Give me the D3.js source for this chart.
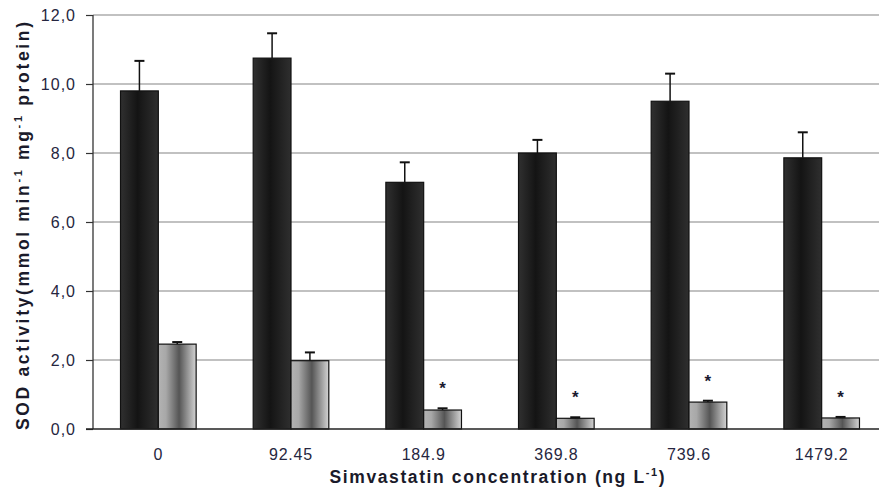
<!DOCTYPE html>
<html>
<head>
<meta charset="utf-8">
<script src="https://cdn.jsdelivr.net/npm/d3@7"></script>
<style>
  html, body { margin: 0; padding: 0; background: #fff; }
  svg { display: block; }
</style>
</head>
<body>
<svg id="chart" width="879" height="498"></svg>
<script>
// Simvastatin concentrations (ng L-1)
const categories = ["0", "92.45", "184.9", "369.8", "739.6", "1479.2"];
// SOD activity, dark series
const darkValues = [9.8, 10.75, 7.15, 8.0, 9.5, 7.86];
const darkErrors = [0.87, 0.72, 0.58, 0.38, 0.8, 0.74];
// SOD activity, light series
const lightValues = [2.46, 1.98, 0.55, 0.31, 0.78, 0.32];
const lightErrors = [0.06, 0.24, 0.05, 0.03, 0.04, 0.03];
// significance markers on the light series
const significant = [false, false, true, true, true, true];
// y-axis ticks
const yTicks = [0, 2, 4, 6, 8, 10, 12];

const svg = d3.select("#chart");
const W = 879;
const plotLeft = 93, plotTop = 15, plotBottom = 429;

const x0 = d3.scaleBand()
  .domain(categories)
  .range([92, 888])
  .paddingInner(0.43)
  .paddingOuter(0.215);

const series = ["dark", "light"];
const x1 = d3.scaleBand()
  .domain(series)
  .range([0, x0.bandwidth()]);

const y = d3.scaleLinear().domain([0, 12]).range([plotBottom, plotTop]);

// gradients
const defs = svg.append("defs");
const gDark = defs.append("linearGradient").attr("id", "gDark")
  .attr("x1", "0%").attr("x2", "100%").attr("y1", "0%").attr("y2", "0%");
[["0%", "#303030"], ["45%", "#141414"], ["100%", "#2f2f2f"]].forEach(([o, c]) =>
  gDark.append("stop").attr("offset", o).attr("stop-color", c));
const gLight = defs.append("linearGradient").attr("id", "gLight")
  .attr("x1", "0%").attr("x2", "100%").attr("y1", "0%").attr("y2", "0%");
[["0%", "#b3b3b3"], ["20%", "#a8a8a8"], ["55%", "#555555"], ["100%", "#d4d4d4"]].forEach(([o, c]) =>
  gLight.append("stop").attr("offset", o).attr("stop-color", c));

// horizontal gridlines
svg.append("g")
  .selectAll("line")
  .data(yTicks.filter(d => d > 0))
  .join("line")
  .attr("x1", plotLeft).attr("x2", W)
  .attr("y1", d => y(d)).attr("y2", d => y(d))
  .attr("stroke", "#adadad")
  .attr("stroke-width", 1.6);

// y axis
const yAxis = d3.axisLeft(y)
  .tickValues(yTicks)
  .tickSize(7)
  .tickPadding(10)
  .tickFormat(d => d3.format(".1f")(d).replace(".", ","));
const ya = svg.append("g")
  .attr("transform", `translate(${plotLeft},0)`)
  .call(yAxis);
ya.select(".domain").attr("stroke", "#222").attr("stroke-width", 1.2).attr("d", `M0,${plotTop}V${plotBottom}`);
ya.selectAll(".tick line").attr("stroke", "#333").attr("stroke-width", 1.2);
ya.selectAll(".tick text")
  .attr("font-family", "Liberation Sans, Arial, sans-serif")
  .attr("font-size", 16)
  .attr("letter-spacing", 1)
  .attr("fill", "#262640");

const rows = categories.map((c, i) => ({
  cat: c,
  bars: [
    { s: "dark", v: darkValues[i], e: darkErrors[i] },
    { s: "light", v: lightValues[i], e: lightErrors[i] }
  ],
  sig: significant[i]
}));

const groups = svg.append("g")
  .selectAll("g")
  .data(rows)
  .join("g")
  .attr("transform", d => `translate(${x0(d.cat)},0)`);

// error bars (upper only), drawn under the bars so the stem starts at the bar top
groups.selectAll("g.err")
  .data(d => d.bars)
  .join("g")
  .attr("class", "err")
  .each(function(b) {
    const g = d3.select(this);
    const cx = x1(b.s) + x1.bandwidth() / 2;
    g.append("line")
      .attr("x1", cx).attr("x2", cx)
      .attr("y1", y(b.v)).attr("y2", y(b.v + b.e))
      .attr("stroke", "#111").attr("stroke-width", 1.5);
    g.append("line")
      .attr("x1", cx - 5).attr("x2", cx + 5)
      .attr("y1", y(b.v + b.e)).attr("y2", y(b.v + b.e))
      .attr("stroke", "#111").attr("stroke-width", 2);
  });

groups.selectAll("rect")
  .data(d => d.bars)
  .join("rect")
  .attr("x", b => x1(b.s))
  .attr("width", x1.bandwidth())
  .attr("y", b => y(b.v))
  .attr("height", b => y(0) - y(b.v))
  .attr("fill", b => b.s === "dark" ? "url(#gDark)" : "url(#gLight)")
  .attr("stroke", "#111")
  .attr("stroke-width", 1.2);

// significance asterisks above the light bars
groups.filter(d => d.sig)
  .append("text")
  .attr("x", d => x1("light") + x1.bandwidth() / 2)
  .attr("y", d => y(d.bars[1].v + d.bars[1].e) - 14)
  .attr("text-anchor", "middle")
  .attr("font-family", "Liberation Sans, Arial, sans-serif")
  .attr("font-weight", "bold")
  .attr("font-size", 17)
  .attr("fill", "#1a1a30")
  .text("*");

// x axis line
svg.append("line")
  .attr("x1", 86).attr("x2", W)
  .attr("y1", plotBottom).attr("y2", plotBottom)
  .attr("stroke", "#222").attr("stroke-width", 1.4);

// category labels
svg.append("g")
  .selectAll("text")
  .data(categories)
  .join("text")
  .attr("x", d => x0(d) + x0.bandwidth() / 2)
  .attr("y", 460)
  .attr("text-anchor", "middle")
  .attr("font-family", "Liberation Sans, Arial, sans-serif")
  .attr("font-size", 16)
  .attr("letter-spacing", 0.8)
  .attr("fill", "#262640")
  .text(d => d);

// axis titles
const xt = svg.append("text")
  .attr("x", 497)
  .attr("y", 483)
  .attr("text-anchor", "middle")
  .attr("font-family", "Liberation Sans, Arial, sans-serif")
  .attr("font-weight", "bold")
  .attr("font-size", 17.5)
  .attr("fill", "#1a1a2a")
  .attr("textLength", 335)
  .attr("lengthAdjust", "spacing");
xt.append("tspan").text("Simvastatin concentration (ng L");
xt.append("tspan").attr("dy", -7).attr("font-size", 11).text("-1");
xt.append("tspan").attr("dy", 7).text(")");

const yt = svg.append("text")
  .attr("transform", "translate(29,226) rotate(-90)")
  .attr("text-anchor", "middle")
  .attr("font-family", "Liberation Sans, Arial, sans-serif")
  .attr("font-weight", "bold")
  .attr("font-size", 17.5)
  .attr("fill", "#1a1a2a")
  .attr("textLength", 408)
  .attr("lengthAdjust", "spacing");
yt.append("tspan").text("SOD activity(mmol min");
yt.append("tspan").attr("dy", -7).attr("font-size", 11).text("-1");
yt.append("tspan").attr("dy", 7).text(" mg");
yt.append("tspan").attr("dy", -7).attr("font-size", 11).text("-1");
yt.append("tspan").attr("dy", 7).text(" protein)");
</script>
</body>
</html>
